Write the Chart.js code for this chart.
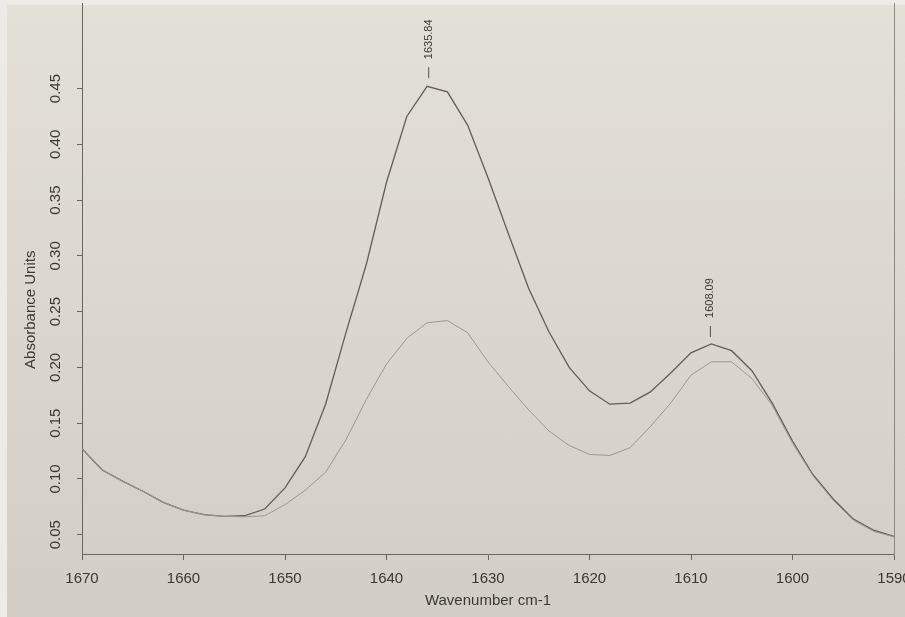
<!DOCTYPE html>
<html>
<head>
<meta charset="utf-8">
<script src="https://cdn.jsdelivr.net/npm/chart.js@4"></script>
<style>
  html, body { margin: 0; padding: 0; background: #ecebe6; }
  #wrap { position: relative; width: 905px; height: 617px; overflow: hidden; }
  #paper {
    position: absolute; left: 7px; top: 5px; right: 0; bottom: 0;
    background: linear-gradient(180deg, #e3e0d8 0%, #dcd8cf 45%, #d3cec5 100%);
  }
  #spectrum { position: absolute; left: 0; top: 0; }
</style>
</head>
<body>
<div id="wrap">
  <div id="paper"></div>
  <canvas id="spectrum" width="905" height="617"></canvas>
</div>
<script>
// wavenumbers (cm-1), every 2 cm-1
const wavenumbers = [
  1670, 1668, 1666, 1664, 1662, 1660, 1658, 1656, 1654, 1652,
  1650, 1648, 1646, 1644, 1642, 1640, 1638, 1636, 1634, 1632,
  1630, 1628, 1626, 1624, 1622, 1620, 1618, 1616, 1614, 1612,
  1610, 1608, 1606, 1604, 1602, 1600, 1598, 1596, 1594, 1592, 1590
];
// darker (upper) trace
const absorbanceA = [
  0.127, 0.108, 0.098, 0.089, 0.079, 0.072, 0.068, 0.0665, 0.067, 0.073,
  0.092, 0.120, 0.167, 0.231, 0.292, 0.366, 0.425, 0.452, 0.447, 0.417,
  0.370, 0.320, 0.271, 0.232, 0.200, 0.179, 0.167, 0.168, 0.178, 0.195,
  0.213, 0.221, 0.215, 0.197, 0.168, 0.134, 0.104, 0.082, 0.064, 0.054, 0.0485
];
// lighter (lower) trace
const absorbanceB = [
  0.127, 0.108, 0.098, 0.089, 0.079, 0.072, 0.068, 0.0665, 0.066, 0.067,
  0.077, 0.090, 0.106, 0.135, 0.171, 0.203, 0.226, 0.240, 0.242, 0.231,
  0.205, 0.183, 0.162, 0.143, 0.130, 0.122, 0.121, 0.128, 0.147, 0.168,
  0.193, 0.205, 0.205, 0.190, 0.166, 0.132, 0.103, 0.081, 0.063, 0.053, 0.048
];
const xTicks = [1670, 1660, 1650, 1640, 1630, 1620, 1610, 1600, 1590];
const yTicks = [0.05, 0.10, 0.15, 0.20, 0.25, 0.30, 0.35, 0.40, 0.45];
const peakWavenumbers = [1635.84, 1608.09];
const peakValues = [0.453, 0.221];
const peakLabels = ["1635.84", "1608.09"];

const ink = "#3b3834";
const font = "'Liberation Sans', Arial, sans-serif";

const toPoints = (ys) => wavenumbers.map((x, i) => ({ x, y: ys[i] }));

const noPad = (scale) => {
  scale.paddingLeft = 0;
  scale.paddingRight = 0;
  scale.paddingTop = 0;
  scale.paddingBottom = 0;
};

// peak picks: short mark above the peak and the rotated wavenumber
const peakMarks = {
  id: "peakMarks",
  afterDatasetsDraw(chart) {
    const { ctx, scales: { x, y } } = chart;
    ctx.save();
    ctx.strokeStyle = "#55514c";
    ctx.lineWidth = 1;
    ctx.fillStyle = ink;
    ctx.font = "11px " + font;
    peakWavenumbers.forEach((w, i) => {
      const px = x.getPixelForValue(w);
      const py = y.getPixelForValue(peakValues[i]);
      ctx.beginPath();
      ctx.moveTo(px, py - 7);
      ctx.lineTo(px, py - 18);
      ctx.stroke();
      ctx.save();
      ctx.translate(px, py - 26);
      ctx.rotate(-Math.PI / 2);
      ctx.textAlign = "left";
      ctx.textBaseline = "middle";
      ctx.fillText(peakLabels[i], 0, 0);
      ctx.restore();
    });
    ctx.restore();
  }
};

new Chart(document.getElementById("spectrum"), {
  type: "line",
  data: {
    datasets: [
      {
        data: toPoints(absorbanceB),
        borderColor: "#9d978f",
        borderWidth: 1,
        pointRadius: 0,
        tension: 0,
      },
      {
        data: toPoints(absorbanceA),
        borderColor: "#625d57",
        borderWidth: 1.3,
        pointRadius: 0,
        tension: 0,
      },
    ],
  },
  options: {
    responsive: false,
    animation: false,
    layout: { padding: { left: 0, right: 0, top: 3, bottom: 0 } },
    plugins: { legend: { display: false }, tooltip: { enabled: false } },
    scales: {
      x: {
        type: "linear",
        reverse: true,
        min: 1590,
        max: 1670,
        afterBuildTicks: (s) => { s.ticks = xTicks.map((v) => ({ value: v })); },
        afterFit: (s) => { s.height = 63; noPad(s); },
        ticks: {
          color: ink,
          font: { family: font, size: 15 },
          padding: 10,
          maxRotation: 0,
          callback: (v) => String(v),
        },
        grid: { drawOnChartArea: false, tickLength: 6, color: "#6a665f" },
        border: { color: "#6a665f", width: 1 },
        title: {
          display: true,
          text: "Wavenumber cm-1",
          color: ink,
          font: { family: font, size: 15 },
          padding: { top: 0, bottom: 7 },
        },
      },
      y: {
        min: 0.0327,
        max: 0.5267,
        afterBuildTicks: (s) => { s.ticks = yTicks.map((v) => ({ value: v })); },
        afterFit: (s) => { s.width = 82; noPad(s); },
        ticks: {
          color: ink,
          font: { family: font, size: 15 },
          padding: 7,
          minRotation: 90,
          maxRotation: 90,
          crossAlign: "center",
          callback: (v) => v.toFixed(2),
        },
        grid: { drawOnChartArea: false, tickLength: 5, color: "#6a665f" },
        border: { color: "#6a665f", width: 1 },
        title: {
          display: true,
          // trailing spaces sit at the top end of the rotated title and push it down like the print
          text: "Absorbance Units" + "\u00a0".repeat(15),
          color: ink,
          font: { family: font, size: 15 },
          padding: { top: 22, bottom: 0 },
        },
      },
      y2: {
        position: "right",
        min: 0.0327,
        max: 0.5267,
        afterFit: (s) => { s.width = 11; noPad(s); },
        ticks: { display: false },
        grid: { drawOnChartArea: false, drawTicks: false },
        border: { color: "#8d8881", width: 1 },
      },
    },
  },
  plugins: [peakMarks],
});
</script>
</body>
</html>
